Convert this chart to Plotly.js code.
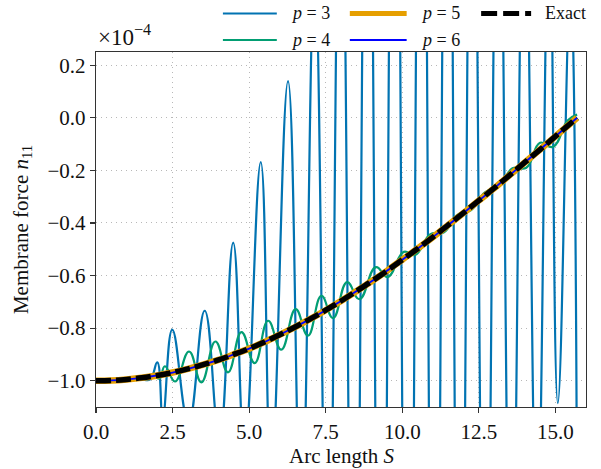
<!DOCTYPE html>
<html>
<head>
<meta charset="utf-8">
<script src="https://cdn.plot.ly/plotly-3.0.1.min.js"></script>
<style>
  html, body { margin: 0; padding: 0; background: #ffffff; }
  #chart { width: 601px; height: 469px; }
</style>
</head>
<body>
<div id="chart"></div>
<script>
// Values of n11 are given in units of 1e-4 (axis shows "×10^-4")

// Exact solution
const sExact = [0, 0.5, 1.0, 1.5, 2.0, 2.5, 3.0, 3.5, 4.0, 4.5, 5.0, 5.5, 6.0, 6.5, 7.0, 7.5, 8.0,
                8.5, 9.0, 9.5, 10.0, 10.5, 11.0, 11.5, 12.0, 12.5, 13.0, 13.5, 14.0, 14.5, 15.0, 15.5, 15.71];
const nExact = [-1.000, -0.999, -0.995, -0.989, -0.980, -0.969, -0.955, -0.939, -0.921, -0.900, -0.878,
                -0.853, -0.825, -0.796, -0.765, -0.732, -0.697, -0.660, -0.622, -0.582, -0.540, -0.498,
                -0.454, -0.408, -0.362, -0.315, -0.268, -0.219, -0.170, -0.121, -0.071, -0.021, 0.000];

// p = 5 and p = 6 lie on top of the exact curve
const sP5 = sExact;
const nP5 = nExact;
const sP6 = sExact;
const nP6 = nExact;

// p = 3 (extremes of the oscillation, read / estimated from picture)
const sP3 = [0, 0.5, 1.0, 1.4, 1.76, 2.0, 2.18, 2.49, 3.02, 3.55, 4.03, 4.48, 4.85, 5.38, 5.72, 6.27,
             6.70, 7.14, 7.57, 7.99, 8.43, 8.87, 9.31, 9.75, 10.19, 10.63, 11.05, 11.48, 11.88, 12.29,
             12.71, 13.14, 13.56, 13.99, 14.40, 14.80, 15.08, 15.49, 15.71];
const nP3 = [-1.000, -0.999, -0.995, -0.990, -0.996, -0.930, -1.140, -0.806, -1.160, -0.734, -1.220,
             -0.475, -1.260, -0.169, -1.350, 0.139, -1.550, 0.550, -2.000, 1.200, -2.600, 1.800, -3.000,
             2.200, -3.200, 2.200, -3.100, 2.000, -2.800, 1.600, -2.400, 1.300, -2.000, 1.000, -1.600,
             0.800, -1.085, 0.500, -1.600];

// p = 4 (extremes of the oscillation)
const sP4 = [0, 0.5, 1.0, 1.5, 1.9, 2.07, 2.25, 2.58, 3.04, 3.44, 3.90, 4.31, 4.75, 5.18, 5.62, 6.05,
             6.52, 6.92, 7.36, 7.74, 8.2, 8.6, 9.14, 9.52, 10.05, 10.42, 10.92, 11.35, 11.8, 12.25,
             12.7, 13.15, 13.6, 14.05, 14.5, 14.92, 15.4, 15.71];
const nP4 = [-1.000, -0.999, -0.995, -0.989, -0.982, -0.992, -0.945, -1.003, -0.889, -1.006, -0.851,
             -0.968, -0.815, -0.933, -0.772, -0.882, -0.728, -0.829, -0.677, -0.762, -0.625, -0.690,
             -0.568, -0.606, -0.510, -0.522, -0.443, -0.437, -0.369, -0.351, -0.284, -0.263, -0.192,
             -0.190, -0.095, -0.111, -0.011, 0.012];

// Legend labels, axis titles and tick settings
const seriesNames = ['<i>p</i> = 3', '<i>p</i> = 4', '<i>p</i> = 5', '<i>p</i> = 6', 'Exact'];
const seriesColors = ['#0173B2', '#029E73', '#E69F00', '#0000FF', '#000000'];
const xTitle = 'Arc length <i>S</i>';
const yTitle = 'Membrane force <i>n</i><sub>11</sub>';
const xTickVals = [0, 2.5, 5, 7.5, 10, 12.5, 15];
const yTickVals = [-1.0, -0.8, -0.6, -0.4, -0.2, 0.0, 0.2];

const FONT = 'Liberation Serif';
const tickFont = { family: FONT, size: 21, color: '#111' };

const traces = [
  { x: sP3, y: nP3, name: seriesNames[0], mode: 'lines',
    line: { color: seriesColors[0], width: 2.2, shape: 'spline', smoothing: 1.3 } },
  { x: sP4, y: nP4, name: seriesNames[1], mode: 'lines',
    line: { color: seriesColors[1], width: 2.2, shape: 'spline', smoothing: 1.3 } },
  { x: sP5, y: nP5, name: seriesNames[2], mode: 'lines',
    line: { color: seriesColors[2], width: 6.5, shape: 'spline' } },
  { x: sP6, y: nP6, name: seriesNames[3], mode: 'lines',
    line: { color: seriesColors[3], width: 1.8, shape: 'spline' } },
  { x: sExact, y: nExact, name: seriesNames[4], mode: 'lines',
    line: { color: seriesColors[4], width: 5.5, dash: '15px,5px', shape: 'spline' } }
];

// Manual legend (3 columns x 2 rows, above plot)
const legendCols = [0.259, 0.518, 0.786];
const legendRows = [1.1085, 1.034];
const legendLen = [0.11, 0.116, 0.102];
const legendSlots = [[0, 0], [0, 1], [1, 0], [1, 1], [2, 0]]; // [col,row] for each series
const legendWidths = [2, 2, 5, 2, 5];
const shapes = [];
const annotations = [];
legendSlots.forEach((slot, i) => {
  const c = slot[0], r = slot[1];
  shapes.push({
    type: 'line', xref: 'paper', yref: 'paper',
    x0: legendCols[c], x1: legendCols[c] + legendLen[c],
    y0: legendRows[r], y1: legendRows[r],
    line: { color: seriesColors[i], width: legendWidths[i], dash: i === 4 ? '16px,6px' : 'solid' }
  });
  annotations.push({
    xref: 'paper', yref: 'paper', x: legendCols[c] + legendLen[c] + 0.025, y: legendRows[r],
    xanchor: 'left', yanchor: 'middle', showarrow: false,
    text: seriesNames[i], font: { family: FONT, size: 18, color: '#111' }
  });
});
// scale factor label
annotations.push({
  xref: 'paper', yref: 'paper', x: 0.0, y: 1.0, xanchor: 'left', yanchor: 'bottom',
  showarrow: false, text: '×10<sup>−4</sup>', font: { family: FONT, size: 23, color: '#111' }
});
// x-axis title (placed as annotation for exact vertical position)
annotations.push({
  xref: 'paper', yref: 'paper', x: 0.5, y: -0.139, xanchor: 'center', yanchor: 'middle',
  showarrow: false, borderpad: 0, text: xTitle, font: { family: FONT, size: 21, color: '#111' }
});

const axisCommon = {
  showgrid: true, gridcolor: '#b8b8b8', griddash: '1px,4px', gridwidth: 1,
  zeroline: false, showline: true, linecolor: '#333', linewidth: 1.3, mirror: true,
  ticks: 'outside', ticklen: 5, tickcolor: '#333', tickwidth: 1.2, tickfont: tickFont
};

const layout = {
  width: 601, height: 469,
  margin: { l: 96, r: 15, t: 52, b: 62 },
  paper_bgcolor: '#ffffff', plot_bgcolor: '#ffffff',
  font: { family: FONT, size: 21, color: '#111' },
  showlegend: false,
  xaxis: Object.assign({}, axisCommon, {
    range: [0, 16], tickvals: xTickVals, tickformat: '.1f'
  }),
  yaxis: Object.assign({}, axisCommon, {
    range: [-1.1, 0.25], tickvals: yTickVals, tickformat: '.1f',
    title: { text: yTitle, font: { family: FONT, size: 21, color: '#111' }, standoff: 13 }
  }),
  shapes: shapes,
  annotations: annotations
};

Plotly.newPlot('chart', traces, layout, { displayModeBar: false, staticPlot: true });
</script>
</body>
</html>
